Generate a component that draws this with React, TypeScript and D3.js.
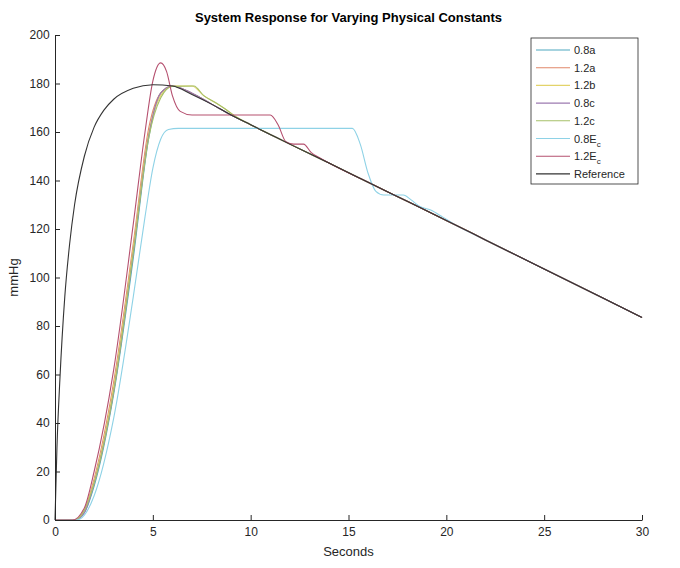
import React, { useEffect, useRef } from 'react';
import * as d3 from 'd3';

const xTicks = [0, 5, 10, 15, 20, 25, 30];
const yTicks = [0, 20, 40, 60, 80, 100, 120, 140, 160, 180, 200];

// shared decay tail of all responses
const tail: [number, number][] = [
  [12, 155], [14, 147.2], [16, 139.3], [18, 131.4], [20, 123.5], [22, 115.5], [25, 103.5], [28, 91.5], [30, 83.5],
];

const reference: [number, number][] = [
  [0, 0], [0.1, 30], [0.25, 58], [0.5, 92], [0.75, 114], [1, 130], [1.5, 150], [2, 162], [2.5, 169], [3, 173.5],
  [4, 178], [5, 179.5], [6, 179], [7, 175.5], [8, 171.5], [9, 167], [10, 163], [11, 159], ...tail,
];
const s08a: [number, number][] = [
  [0, 0], [1, 0], [1.5, 3], [2, 14], [3, 52], [4, 108], [4.8, 158], [5.4, 176], [6, 179], [7, 176], [8, 171.5], [9, 167], [10, 163], [11, 159], ...tail,
];
const s12a: [number, number][] = [
  [0, 0], [1, 0], [1.5, 4], [2, 17], [3, 57], [4, 114], [4.8, 162], [5.4, 176], [6, 179], [7, 176], [8, 171.5], [9, 167], [10, 163], [11, 159], ...tail,
];
const s12b: [number, number][] = [
  [0, 0], [1, 0], [1.5, 4], [2, 16], [3, 55], [4, 112], [4.8, 160], [5.4, 175], [6, 179], [7, 179], [7.6, 175], [8.2, 172], [8.7, 169.5], [9.2, 166.5], [10, 163], [11, 159], ...tail,
];
const s08c: [number, number][] = [
  [0, 0], [1, 0], [1.5, 3], [2, 15], [3, 53], [4, 110], [4.8, 159], [5.4, 176], [6, 179], [7, 176], [8, 171.5], [9, 167], [10, 163], [11, 159], ...tail,
];
const s12c: [number, number][] = [
  [0, 0], [1, 0], [1.5, 4], [2, 15], [3, 53], [4, 110], [4.8, 158], [5.4, 174], [6, 178.8], [7.1, 179], [7.6, 175], [8.2, 172.2], [8.7, 169.5], [9.2, 166.5], [10, 163], [11, 159], ...tail,
];
const s08Ec: [number, number][] = [
  [0, 0], [1.1, 0], [1.5, 2], [2, 10], [3, 42], [4, 92], [4.6, 125], [5, 145], [5.4, 157], [5.8, 161], [6.3, 161.5],
  [15.2, 161.5], [15.6, 155], [16, 143], [16.4, 135.5], [16.8, 134], [17.8, 134], [18.2, 132], [18.6, 129.5], [19.2, 127.8], [19.8, 125], [20.5, 121.5], [22, 115.5], [25, 103.5], [28, 91.5], [30, 83.5],
];
const s12Ec: [number, number][] = [
  [0, 0], [0.9, 0], [1.5, 5], [2, 20], [3, 62], [4, 122], [4.6, 160], [5, 181], [5.4, 188.5], [5.7, 185], [6, 175], [6.4, 168.5], [7, 167],
  [11, 167], [11.4, 163], [11.8, 156], [12.2, 155], [12.7, 155], [13.1, 151.5], [13.5, 149.5], [14, 147.2], [16, 139.3], [18, 131.4], [20, 123.5], [22, 115.5], [25, 103.5], [28, 91.5], [30, 83.5],
];

const seriesNames = ['0.8a', '1.2a', '1.2b', '0.8c', '1.2c', '0.8E', '1.2E', 'Reference'];
const seriesData = [s08a, s12a, s12b, s08c, s12c, s08Ec, s12Ec, reference];
const seriesColors = ['#4fa8bf', '#e0876a', '#e3d36a', '#9c7ab0', '#a6c068', '#8ed2e6', '#b5506f', '#333333'];
const subscripted = [false, false, false, false, false, true, true, false];

export default function App() {
  const ref = useRef<SVGSVGElement>(null);

  useEffect(() => {
    const svg = d3.select(ref.current);
    svg.selectAll('*').remove();
    const m = { left: 55, top: 35, right: 642, bottom: 520 };
    const x = d3.scaleLinear().domain([0, 30]).range([m.left, m.right]);
    const y = d3.scaleLinear().domain([0, 200]).range([m.bottom, m.top]);
    const font = 'Liberation Sans, Arial, sans-serif';

    svg.append('rect').attr('x', m.left).attr('y', m.top).attr('width', m.right - m.left)
      .attr('height', m.bottom - m.top).attr('fill', 'white');

    const gx = svg.append('g').attr('transform', `translate(0,${m.bottom})`)
      .call(d3.axisBottom(x).tickValues(xTicks).tickSize(-5).tickSizeOuter(0));
    const gy = svg.append('g').attr('transform', `translate(${m.left},0)`)
      .call(d3.axisLeft(y).tickValues(yTicks).tickSize(-5).tickSizeOuter(0));
    [gx, gy].forEach(g => {
      g.selectAll('path,line').attr('stroke', '#262626');
      g.selectAll('text').attr('fill', '#262626').style('font-family', font).style('font-size', '12px');
    });
    gx.selectAll('text').attr('dy', '1.1em');
    gy.selectAll('text').attr('dx', '-0.2em');

    svg.append('text').attr('x', (m.left + m.right) / 2).attr('y', 22).attr('text-anchor', 'middle')
      .style('font-family', font).style('font-size', '13px').style('font-weight', 'bold')
      .text('System Response for Varying Physical Constants');
    svg.append('text').attr('x', (m.left + m.right) / 2).attr('y', 556).attr('text-anchor', 'middle')
      .style('font-family', font).style('font-size', '13px').attr('fill', '#262626').text('Seconds');
    svg.append('text').attr('transform', `translate(18,${(m.top + m.bottom) / 2}) rotate(-90)`)
      .attr('text-anchor', 'middle').style('font-family', font).style('font-size', '13px')
      .attr('fill', '#262626').text('mmHg');

    const line = d3.line<[number, number]>().x(d => x(d[0])).y(d => y(d[1])).curve(d3.curveMonotoneX);
    seriesData.forEach((s, i) => {
      svg.append('path').datum(s).attr('d', line).attr('fill', 'none')
        .attr('stroke', seriesColors[i]).attr('stroke-width', 1.1);
    });

    // legend
    const lg = svg.append('g').attr('transform', 'translate(531,38)');
    lg.append('rect').attr('width', 107).attr('height', 146).attr('fill', 'white')
      .attr('stroke', '#262626').attr('stroke-width', 0.8);
    seriesNames.forEach((n, i) => {
      const yy = 12 + i * 17.7;
      lg.append('line').attr('x1', 5).attr('x2', 39).attr('y1', yy).attr('y2', yy)
        .attr('stroke', seriesColors[i]).attr('stroke-width', 1.1);
      const t = lg.append('text').attr('x', 43).attr('y', yy + 4).attr('fill', '#262626')
        .style('font-family', font).style('font-size', '11px').text(n);
      if (subscripted[i]) t.append('tspan').attr('dy', 4).style('font-size', '8px').text('c');
    });

    [gx, gy].forEach(g => g.raise());
  }, []);

  return <svg ref={ref} width={680} height={568} style={{ display: 'block', margin: '-8px 0 0 -8px' }} />;
}
